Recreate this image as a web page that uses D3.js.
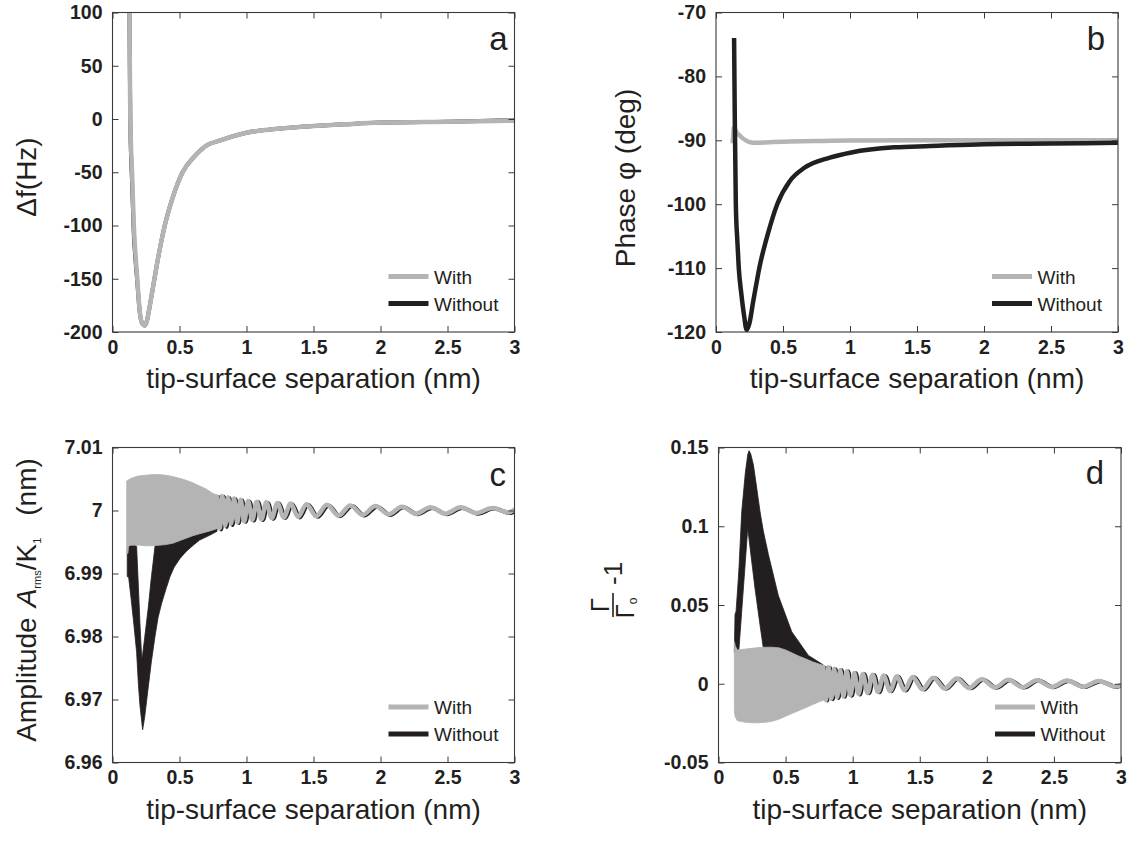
<!DOCTYPE html>
<html><head><meta charset="utf-8">
<script src="https://cdn.jsdelivr.net/npm/d3@7"></script>
<style>
html,body{margin:0;padding:0;background:#fff;}
svg{display:block;}
text{font-family:"Liberation Sans",Arial,Helvetica,sans-serif;fill:#231f20;}
.tick text{font-weight:bold;font-size:19.5px;fill:#231f20;}
</style></head><body>
<svg id="chart" width="1136" height="841"></svg>
<script>
// ---------- tick values / labels ----------
const xTickValues = [0, 0.5, 1, 1.5, 2, 2.5, 3];
const xTickLabels = ["0", "0.5", "1", "1.5", "2", "2.5", "3"];
const dfTicks = [-200, -150, -100, -50, 0, 50, 100];
const dfTickLabels = ["-200", "-150", "-100", "-50", "0", "50", "100"];
const phaseTicks = [-120, -110, -100, -90, -80, -70];
const phaseTickLabels = ["-120", "-110", "-100", "-90", "-80", "-70"];
const ampTicks = [6.96, 6.97, 6.98, 6.99, 7.0, 7.01];
const ampTickLabels = ["6.96", "6.97", "6.98", "6.99", "7", "7.01"];
const gammaTicks = [-0.05, 0, 0.05, 0.1, 0.15];
const gammaTickLabels = ["-0.05", "0", "0.05", "0.1", "0.15"];
const seriesNames = ["With", "Without"];

// ---------- panel a : frequency shift ----------
const dfX = [0.118,0.126,0.133,0.146,0.159,0.172,0.185,0.203,0.222,0.241,0.258,0.272,0.29,0.313,0.35,0.39,0.446,0.523,0.613,0.70,0.805,0.933,1.0,1.164,1.34,1.5,1.73,2.0,2.5,3.0];
const dfWith = [160,100,0,-50,-100,-128,-150,-180,-192,-194,-189,-180,-167,-150,-124,-100,-75,-50,-35,-25,-20,-15,-12.9,-10,-8,-6.6,-5,-3.4,-2.5,-1.6];
const dfWithout = [160,100,-5,-60,-108,-133,-153,-181,-192,-194,-189,-180,-167,-150,-124,-100,-75,-50,-35,-25,-20,-15,-12.9,-10,-8,-6.6,-5,-3.4,-2.5,-1.2];

// ---------- panel b : phase ----------
const phWithX = [0.108,0.125,0.133,0.142,0.155,0.175,0.2,0.255,0.3,0.4,0.55,0.8,1.0,1.5,2.0,2.5,3.0];
const phWith = [-90.1,-90.1,-88,-88.3,-88.8,-89.2,-89.7,-90.3,-90.4,-90.3,-90.2,-90.1,-90.05,-90,-90,-90,-90];
const phWithoutX = [0.135,0.14,0.148,0.16,0.17,0.19,0.21,0.229,0.25,0.277,0.3,0.323,0.385,0.457,0.55,0.66,0.85,1.01,1.33,1.6,2.0,2.5,3.0];
const phWithout = [-74,-86,-100,-106,-110,-114.2,-117.5,-119.7,-118.6,-115.3,-112.6,-110,-104.8,-100,-96.4,-94.3,-92.7,-91.9,-91.1,-90.9,-90.6,-90.5,-90.4];

// ---------- panels c, d : dense-oscillation envelopes (x < 0.8 nm) ----------
const bandXcWith = [0.106,0.115,0.12,0.15,0.2,0.25,0.3,0.35,0.4,0.45,0.5,0.55,0.6,0.65,0.7,0.75,0.79];
const ampWithUpper = [7.0047,7.0048,7.0049,7.0052,7.0055,7.0056,7.0057,7.0057,7.0056,7.0054,7.0051,7.0048,7.0044,7.0039,7.0034,7.0027,7.0024];
const ampWithLower = [6.9932,6.9932,6.9945,6.9945,6.9945,6.9944,6.9944,6.9945,6.9946,6.9948,6.9952,6.9956,6.996,6.9963,6.9966,6.9969,6.9972];
const bandXcWithout = [0.11,0.12,0.14,0.16,0.18,0.193,0.205,0.218,0.225,0.24,0.267,0.29,0.317,0.34,0.367,0.4,0.429,0.46,0.504,0.55,0.603,0.65,0.728,0.78];
const ampWithoutLower = [6.9895,6.9895,6.9858,6.9818,6.9775,6.9725,6.969,6.9665,6.9652,6.9672,6.972,6.976,6.980,6.983,6.9853,6.9876,6.9895,6.991,6.9924,6.9935,6.9945,6.9953,6.9961,6.9967];
const ampWithoutUpper = [6.9943,6.9943,6.9945,6.9948,6.9943,6.988,6.982,6.9765,6.9772,6.9798,6.9846,6.9894,6.9943,6.997,6.998,6.9985,6.999,6.999,6.999,6.999,6.999,6.999,6.999,6.999];

const bandXdWith = [0.118,0.125,0.14,0.2,0.25,0.3,0.35,0.4,0.45,0.5,0.55,0.6,0.65,0.7,0.75,0.79];
const gammaWithUpper = [0.0267,0.024,0.0215,0.022,0.0225,0.023,0.0232,0.0232,0.0228,0.0215,0.0195,0.0175,0.0158,0.014,0.0125,0.0115];
const gammaWithLower = [-0.0177,-0.021,-0.0235,-0.0245,-0.0248,-0.0248,-0.0245,-0.0238,-0.0225,-0.0207,-0.0188,-0.017,-0.0152,-0.0133,-0.0115,-0.0103];
const bandXdWithout = [0.118,0.123,0.131,0.148,0.153,0.173,0.2,0.218,0.2276,0.24,0.26,0.272,0.31,0.334,0.372,0.446,0.546,0.67,0.78];
const gammaWithoutUpper = [0.02,0.044,0.046,0.067,0.074,0.109,0.134,0.1455,0.148,0.146,0.139,0.132,0.109,0.097,0.082,0.056,0.033,0.018,0.012];
const gammaWithoutLower = [0.02,0.02,0.02,0.02,0.0225,0.046,0.0776,0.0987,0.092,0.083,0.069,0.0606,0.037,0.0227,0.015,0.01,0.005,0.0,-0.005];

// ---------- panels c, d : resolved oscillation extrema (x >= 0.78 nm) ----------
const waveXWith = [0.78,0.80,0.82,0.841,0.862,0.884,0.907,0.931,0.956,0.983,1.012,1.043,1.076,1.111,1.148,1.188,1.231,1.278,1.329,1.385,1.447,1.52,1.6,1.686,1.775,1.867,1.962,2.06,2.16,2.265,2.373,2.484,2.598,2.715,2.834,2.956,3.0];
const waveXWithout = [0.792,0.812,0.832,0.853,0.874,0.896,0.919,0.943,0.968,0.995,1.024,1.055,1.088,1.123,1.16,1.2,1.243,1.29,1.341,1.397,1.459,1.532,1.612,1.698,1.787,1.879,1.974,2.072,2.172,2.277,2.385,2.496,2.61,2.727,2.846,2.968,3.0];
const ampWaveWith = [7.0025,6.9972,7.0023,6.9976,7.0021,6.9979,7.0019,6.9981,7.0017,6.9983,7.0015,6.9985,7.0014,6.9986,7.0013,6.9988,7.0012,6.9989,7.0011,6.999,7.001,6.9991,7.0009,6.9992,7.0008,6.9993,7.0007,6.9994,7.0006,6.9995,7.0005,6.9995,7.0005,6.9996,7.0004,6.9997,7.0002];
const ampWaveWithout = [7.0024,6.997,7.0022,6.9974,7.002,6.9977,7.0018,6.998,7.0016,6.9982,7.0014,6.9984,7.0013,6.9985,7.0012,6.9987,7.0011,6.9988,7.001,6.9989,7.0009,6.999,7.0008,6.9991,7.0007,6.9992,7.0006,6.9993,7.0005,6.9994,7.0004,6.9994,7.0004,6.9995,7.0003,6.9996,6.9999];
const gammaWaveWith = [0.0117,-0.0103,0.0105,-0.0095,0.0095,-0.0087,0.0088,-0.008,0.008,-0.0073,0.0068,-0.0065,0.0062,-0.0058,0.0057,-0.0052,0.0052,-0.0046,0.0047,-0.0041,0.0043,-0.0035,0.0038,-0.003,0.0033,-0.0027,0.0028,-0.0024,0.0025,-0.0022,0.0022,-0.002,0.002,-0.0019,0.0017,-0.0018,-0.0008];
const gammaWaveWithout = [0.0112,-0.0106,0.0101,-0.0098,0.0092,-0.009,0.0085,-0.0083,0.0077,-0.0076,0.0066,-0.0068,0.006,-0.006,0.0055,-0.0054,0.005,-0.0048,0.0045,-0.0043,0.0041,-0.0037,0.0036,-0.0032,0.0031,-0.0029,0.0026,-0.0026,0.0023,-0.0024,0.002,-0.0022,0.0018,-0.0021,0.0015,-0.002,-0.0012];

// ---------- drawing ----------
const GRAY = "#b4b4b4", BLACK = "#231f20", AX = "#3a3a3a";
const svg = d3.select("#chart");

const boxes = {
  a: {l: 112.5, r: 514.5, t: 12.5, b: 332},
  b: {l: 716, r: 1118, t: 12.5, b: 332},
  c: {l: 112.5, r: 514.5, t: 447.5, b: 762.5},
  d: {l: 718.5, r: 1121, t: 447.5, b: 762.5}
};

function pts(xs, ys) { return xs.map((v, i) => [v, ys[i]]); }
function band(xs, lo, hi) { return xs.map((v, i) => [v, lo[i], hi[i]]); }

function panel(id, yDomain, yTicks, yLabels, draw, letterX, letterY) {
  const bx = boxes[id];
  const x = d3.scaleLinear().domain([0, 3]).range([bx.l, bx.r]);
  const y = d3.scaleLinear().domain(yDomain).range([bx.b, bx.t]);
  const g = svg.append("g").attr("class", "panel-" + id);
  svg.append("clipPath").attr("id", "clip-" + id)
    .append("rect").attr("x", bx.l).attr("y", bx.t).attr("width", bx.r - bx.l).attr("height", bx.b - bx.t);
  const plot = g.append("g").attr("clip-path", `url(#clip-${id})`);
  draw(plot, x, y);

  const styleAxis = s => { s.select(".domain").remove(); s.selectAll(".tick line").attr("stroke", AX).attr("stroke-width", 1); };
  g.append("g").attr("transform", `translate(0,${bx.b})`)
    .call(d3.axisBottom(x).tickValues(xTickValues).tickFormat((d, i) => xTickLabels[i]).tickSizeInner(-6).tickSizeOuter(0).tickPadding(8))
    .call(styleAxis);
  g.append("g").attr("transform", `translate(0,${bx.t})`)
    .call(d3.axisTop(x).tickValues(xTickValues).tickFormat("").tickSizeInner(-6).tickSizeOuter(0))
    .call(styleAxis);
  g.append("g").attr("transform", `translate(${bx.l},0)`)
    .call(d3.axisLeft(y).tickValues(yTicks).tickFormat((d, i) => yLabels[i]).tickSizeInner(-6).tickSizeOuter(0).tickPadding(10))
    .call(styleAxis);
  g.append("g").attr("transform", `translate(${bx.r},0)`)
    .call(d3.axisRight(y).tickValues(yTicks).tickFormat("").tickSizeInner(-6).tickSizeOuter(0))
    .call(styleAxis);
  g.selectAll(".tick text").attr("font-family", null).attr("font-size", null).attr("fill", null);

  g.append("rect").attr("x", bx.l).attr("y", bx.t).attr("width", bx.r - bx.l).attr("height", bx.b - bx.t)
    .attr("fill", "none").attr("stroke", AX).attr("stroke-width", 1.1);

  // x-axis title
  g.append("text").attr("x", (bx.l + bx.r) / 2).attr("y", bx.b + 56)
    .attr("text-anchor", "middle").attr("font-size", 28).text("tip-surface separation (nm)");

  // legend
  const legY = [bx.b - 55.5, bx.b - 28.5];
  const legC = [GRAY, BLACK];
  seriesNames.forEach((nm, i) => {
    g.append("line").attr("x1", bx.r - 126).attr("x2", bx.r - 86).attr("y1", legY[i]).attr("y2", legY[i])
      .attr("stroke", legC[i]).attr("stroke-width", 5);
    g.append("text").attr("x", bx.r - 80.5).attr("y", legY[i] + 7).attr("font-size", 19).text(nm);
  });

  // panel letter
  g.append("text").attr("x", letterX).attr("y", letterY).attr("text-anchor", "end")
    .attr("font-size", 33).text(id);
  return g;
}

function drawLine(p, data, x, y, color, w) {
  p.append("path").datum(data)
    .attr("d", d3.line().x(d => x(d[0])).y(d => y(d[1])).curve(d3.curveMonotoneX))
    .attr("fill", "none").attr("stroke", color).attr("stroke-width", w)
    .attr("stroke-linejoin", "round").attr("stroke-linecap", "butt");
}
function drawBand(p, data, x, y, color) {
  p.append("path").datum(data)
    .attr("d", d3.area().x(d => x(d[0])).y0(d => y(d[1])).y1(d => y(d[2])).curve(d3.curveLinear))
    .attr("fill", color).attr("stroke", color).attr("stroke-width", 0.8);
}

// Panel a
const ga = panel("a", [-200, 100], dfTicks, dfTickLabels, (p, x, y) => {
  drawLine(p, pts(dfX, dfWithout), x, y, BLACK, 4);
  drawLine(p, pts(dfX, dfWith), x, y, GRAY, 4.5);
}, 507.5, 50);
ga.append("text").attr("transform", "translate(36,177) rotate(-90)").attr("text-anchor", "middle")
  .attr("font-size", 28).text("\u0394f(Hz)");

// Panel b
const gb = panel("b", [-120, -70], phaseTicks, phaseTickLabels, (p, x, y) => {
  drawLine(p, pts(phWithX, phWith), x, y, GRAY, 4.5);
  drawLine(p, pts(phWithoutX, phWithout), x, y, BLACK, 4.5);
}, 1105, 50);
gb.append("text").attr("transform", "translate(635,178) rotate(-90)").attr("text-anchor", "middle")
  .attr("font-size", 28).text("Phase \u03C6 (deg)");

// Panel c
const gc = panel("c", [6.96, 7.01], ampTicks, ampTickLabels, (p, x, y) => {
  drawBand(p, band(bandXcWithout, ampWithoutLower, ampWithoutUpper), x, y, BLACK);
  drawLine(p, pts(waveXWithout, ampWaveWithout), x, y, BLACK, 4);
  drawBand(p, band(bandXcWith, ampWithLower, ampWithUpper), x, y, GRAY);
  drawLine(p, pts(waveXWith, ampWaveWith), x, y, GRAY, 4.5);
}, 506, 486);
const ct = gc.append("text").attr("transform", "translate(36,600) rotate(-90)").attr("text-anchor", "middle")
  .attr("font-size", 28);
ct.append("tspan").text("Amplitude");
ct.append("tspan").attr("dx", 10).attr("font-style", "italic").text("A");
ct.append("tspan").attr("font-size", 11).attr("dy", 5).text("rms");
ct.append("tspan").attr("dy", -5).text("/K");
ct.append("tspan").attr("font-size", 11).attr("dy", 5).text("1");
ct.append("tspan").attr("dy", -5).attr("dx", 22).text("(nm)");

// Panel d
const gd = panel("d", [-0.05, 0.15], gammaTicks, gammaTickLabels, (p, x, y) => {
  drawBand(p, band(bandXdWithout, gammaWithoutLower, gammaWithoutUpper), x, y, BLACK);
  drawLine(p, pts(waveXWithout, gammaWaveWithout), x, y, BLACK, 4);
  drawBand(p, band(bandXdWith, gammaWithLower, gammaWithUpper), x, y, GRAY);
  drawLine(p, pts(waveXWith, gammaWaveWith), x, y, GRAY, 4.5);
}, 1104, 484);
const dt = gd.append("g").attr("transform", "translate(613,605) rotate(-90)");
dt.append("text").attr("x", 0).attr("y", -4).attr("text-anchor", "middle").attr("font-size", 26).text("\u0393");
dt.append("line").attr("x1", -12).attr("x2", 12).attr("y1", 0).attr("y2", 0).attr("stroke", BLACK).attr("stroke-width", 1.6);
const den = dt.append("text").attr("x", -3).attr("y", 21).attr("text-anchor", "middle").attr("font-size", 26);
den.append("tspan").text("\u0393");
den.append("tspan").attr("font-size", 12).attr("dy", 3).text("o");
dt.append("text").attr("x", 20).attr("y", 9).attr("font-size", 26).text("-1");
</script>
</body></html>
